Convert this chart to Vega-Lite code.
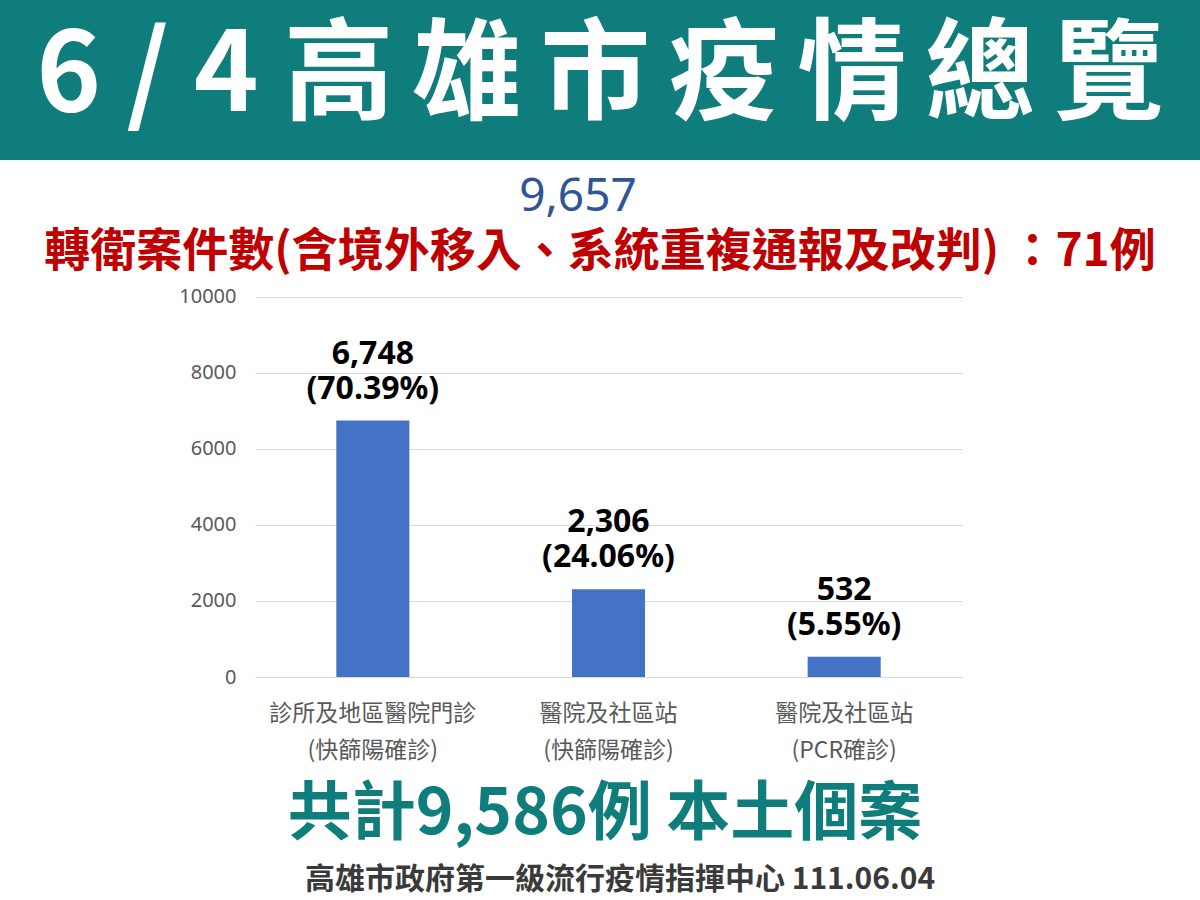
{
  "$schema": "https://vega.github.io/schema/vega-lite/v6.json",
  "padding": 0,
  "background": "white",
  "spacing": 0,
  "bounds": "flush",
  "config": {"view": {"stroke": null}, "concat": {"spacing": 0}, "font": "Noto Sans CJK TC"},
  "vconcat": [
    {
      "width": 1200, "height": 160,
      "view": {"fill": "#0f7d7b", "stroke": null},
      "data": {"values": [{"t": "6 / 4 高\u2006雄\u2006市\u2006疫\u2006情\u2006總\u2006覽"}]},
      "mark": {"type": "text", "font": "Noto Sans CJK TC", "fontSize": 110, "fontWeight": "bold", "color": "white", "dy": -2},
      "encoding": {"text": {"field": "t"}}
    },
    {
      "width": 1200, "height": 74,
      "data": {"values": [{"t": "9,657"}]},
      "mark": {"type": "text", "font": "Noto Sans", "fontSize": 46, "color": "#2f5597", "dx": -22},
      "encoding": {"text": {"field": "t"}}
    },
    {
      "width": 1200, "height": 36,
      "data": {"values": [{"t": "轉衛案件數(含境外移入、系統重複通報及改判) ：71例"}]},
      "mark": {"type": "text", "font": "Noto Sans CJK TC", "fontSize": 46, "fontWeight": "bold", "color": "#c00000"},
      "encoding": {"text": {"field": "t"}}
    },
    {
      "spacing": 0,
      "bounds": "flush",
      "hconcat": [
        {
          "width": 255, "height": 407,
          "data": {"values": [{"t": ""}]},
          "mark": {"type": "text"},
          "encoding": {"text": {"field": "t"}}
        },
        {
          "width": 707, "height": 407,
          "data": {"values": [
            {"cat": "診所及地區醫院門診\n(快篩陽確診)", "value": 6748, "label": "6,748\n(70.39%)"},
            {"cat": "醫院及社區站\n(快篩陽確診)", "value": 2306, "label": "2,306\n(24.06%)"},
            {"cat": "醫院及社區站\n(PCR確診)", "value": 532, "label": "532\n(5.55%)"}
          ]},
          "encoding": {
            "x": {
              "field": "cat", "type": "nominal", "sort": null,
              "scale": {"paddingInner": 0.69, "paddingOuter": 0.345},
              "axis": {
                "title": null, "labelAngle": 0, "labelExpr": "split(datum.value, '\\n')",
                "labelFont": "Noto Sans CJK TC", "labelFontSize": 23, "labelColor": "#595959",
                "labelLineHeight": 37, "labelPadding": 25, "labelLimit": 500, "ticks": false,
                "domainColor": "#d9d9d9", "domainWidth": 1
              }
            },
            "y": {
              "field": "value", "type": "quantitative",
              "scale": {"domain": [0, 10710], "nice": false},
              "axis": {
                "title": null, "values": [0, 2000, 4000, 6000, 8000, 10000], "format": "d",
                "ticks": false, "domain": false, "labelFont": "Noto Sans", "labelFontSize": 20,
                "labelColor": "#595959", "labelPadding": 19, "gridColor": "#d9d9d9"
              }
            }
          },
          "layer": [
            {"mark": {"type": "bar", "color": "#4472c4"}},
            {
              "mark": {"type": "text", "baseline": "bottom", "dy": -50, "font": "Noto Sans", "fontSize": 32, "fontWeight": "bold", "lineBreak": "\n", "lineHeight": 35, "color": "black"},
              "encoding": {"text": {"field": "label"}}
            }
          ]
        }
      ]
    },
    {
      "width": 1200, "height": 500,
      "data": {"values": [{"t": ""}]},
      "mark": {"type": "text"},
      "encoding": {"text": {"field": "t"}}
    },
    {
      "width": 1200, "height": 90,
      "data": {"values": [{"t": "共計9,586例 本土個案"}]},
      "mark": {"type": "text", "font": "Noto Sans CJK TC", "fontSize": 64, "fontWeight": "bold", "color": "#0f7d7b", "dx": 5},
      "encoding": {"text": {"field": "t"}}
    },
    {
      "width": 1200, "height": 40,
      "data": {"values": [{"t": "高雄市政府第一級流行疫情指揮中心 111.06.04"}]},
      "mark": {"type": "text", "font": "Noto Sans CJK TC", "fontSize": 30, "fontWeight": "bold", "color": "#3a3a3a", "dx": 20},
      "encoding": {"text": {"field": "t"}}
    }
  ]
}
